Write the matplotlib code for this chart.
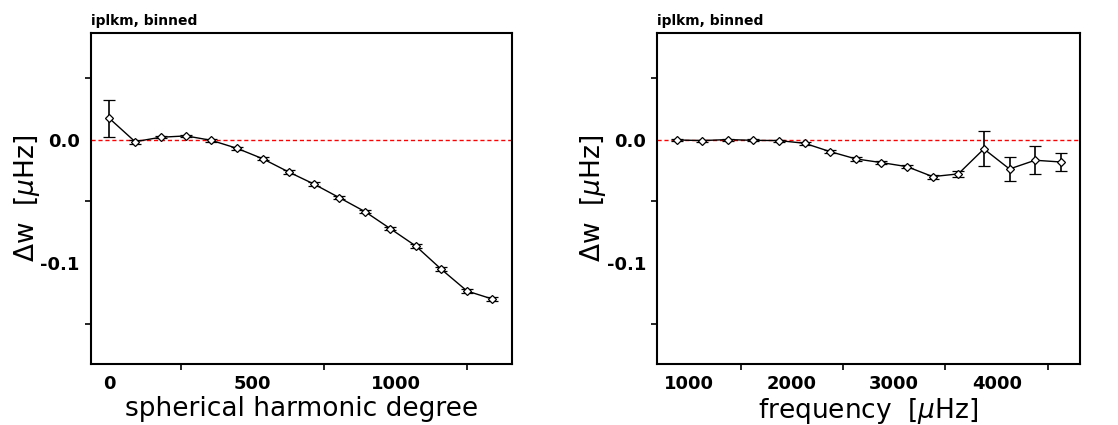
import matplotlib
matplotlib.use("Agg")
import matplotlib.pyplot as plt
from matplotlib.ticker import MultipleLocator, FuncFormatter

# Left panel: spherical harmonic degree
degree = [0, 90, 179, 268, 356, 446, 535, 626, 714, 803, 893, 981, 1070, 1159, 1249, 1337]
dw_degree = [0.0176, -0.0014, 0.0022, 0.0033, -0.0003, -0.0068, -0.0152, -0.0260,
             -0.0358, -0.0469, -0.0583, -0.0721, -0.0862, -0.1051, -0.1228, -0.1293]
err_degree = [0.0150, 0.0015, 0.0010, 0.0010, 0.0010, 0.0012, 0.0012, 0.0013,
              0.0013, 0.0013, 0.0013, 0.0014, 0.0015, 0.0016, 0.0017, 0.0018]

# Right panel: frequency
freq = [875, 1125, 1375, 1625, 1875, 2125, 2375, 2625, 2875, 3125, 3375, 3625, 3875, 4125, 4375, 4625]
dw_freq = [0.0000, -0.0005, 0.0003, -0.0003, -0.0005, -0.0027, -0.0095, -0.0154,
           -0.0184, -0.0217, -0.0298, -0.0276, -0.0073, -0.0236, -0.0165, -0.0179]
err_freq = [0.0008, 0.0008, 0.0008, 0.0008, 0.0008, 0.0010, 0.0012, 0.0013,
            0.0014, 0.0015, 0.0017, 0.0022, 0.0142, 0.0098, 0.0112, 0.0073]

title_text = "iplkm, binned"
ylabel_text = r"$\Delta$w  [$\mu$Hz]"
xlabel_left = "spherical harmonic degree"
xlabel_right = r"frequency  [$\mu$Hz]"

plt.rcParams['font.family'] = ['DejaVu Sans']
plt.rcParams['mathtext.fontset'] = 'dejavusans'

fig = plt.figure(figsize=(11.18, 4.25), dpi=100)
ax1 = fig.add_axes([0.0811, 0.1428, 0.3766, 0.7788])
ax2 = fig.add_axes([0.5879, 0.1428, 0.3781, 0.7788])

panels = [
    (ax1, degree, dw_degree, err_degree, (-65, 1405), 500, 250, xlabel_left),
    (ax2, freq, dw_freq, err_freq, (687, 4813), 1000, 500, xlabel_right),
]

for ax, x, y, e, xlim, major, minor, xl in panels:
    ax.axhline(0, color='red', lw=1.0, ls=(0, (3, 2)), zorder=1)
    ax.errorbar(x, y, yerr=e, fmt='-', color='black', lw=1.0, elinewidth=1.2,
                capsize=4, capthick=1.2, marker='D', markersize=4,
                markerfacecolor='white', markeredgecolor='black', markeredgewidth=0.9,
                zorder=3)
    ax.set_xlim(*xlim)
    ax.set_ylim(-0.1824, 0.0867)
    ax.xaxis.set_major_locator(MultipleLocator(major))
    ax.xaxis.set_minor_locator(MultipleLocator(minor))
    ax.yaxis.set_major_locator(MultipleLocator(0.1))
    ax.yaxis.set_minor_locator(MultipleLocator(0.05))
    ax.tick_params(which='major', length=0, pad=8, labelsize=13)
    ax.tick_params(which='minor', length=4, width=1.2, direction='out')
    ax.yaxis.set_major_formatter(FuncFormatter(
        lambda v, p: "0.0" if abs(v) < 1e-9 else f"{v:.1f}"))
    for lab in ax.get_xticklabels() + ax.get_yticklabels():
        lab.set_fontweight('bold')
    for s in ax.spines.values():
        s.set_linewidth(1.5)
    ax.set_xlabel(xl, fontsize=19, labelpad=2)
    ax.set_ylabel(ylabel_text, fontsize=19)
    ax.yaxis.set_label_coords(-0.116, 0.5)
    ax.set_title(title_text, loc='left', fontsize=10, fontweight='bold', pad=6)

fig.savefig("out.png", dpi=100)
